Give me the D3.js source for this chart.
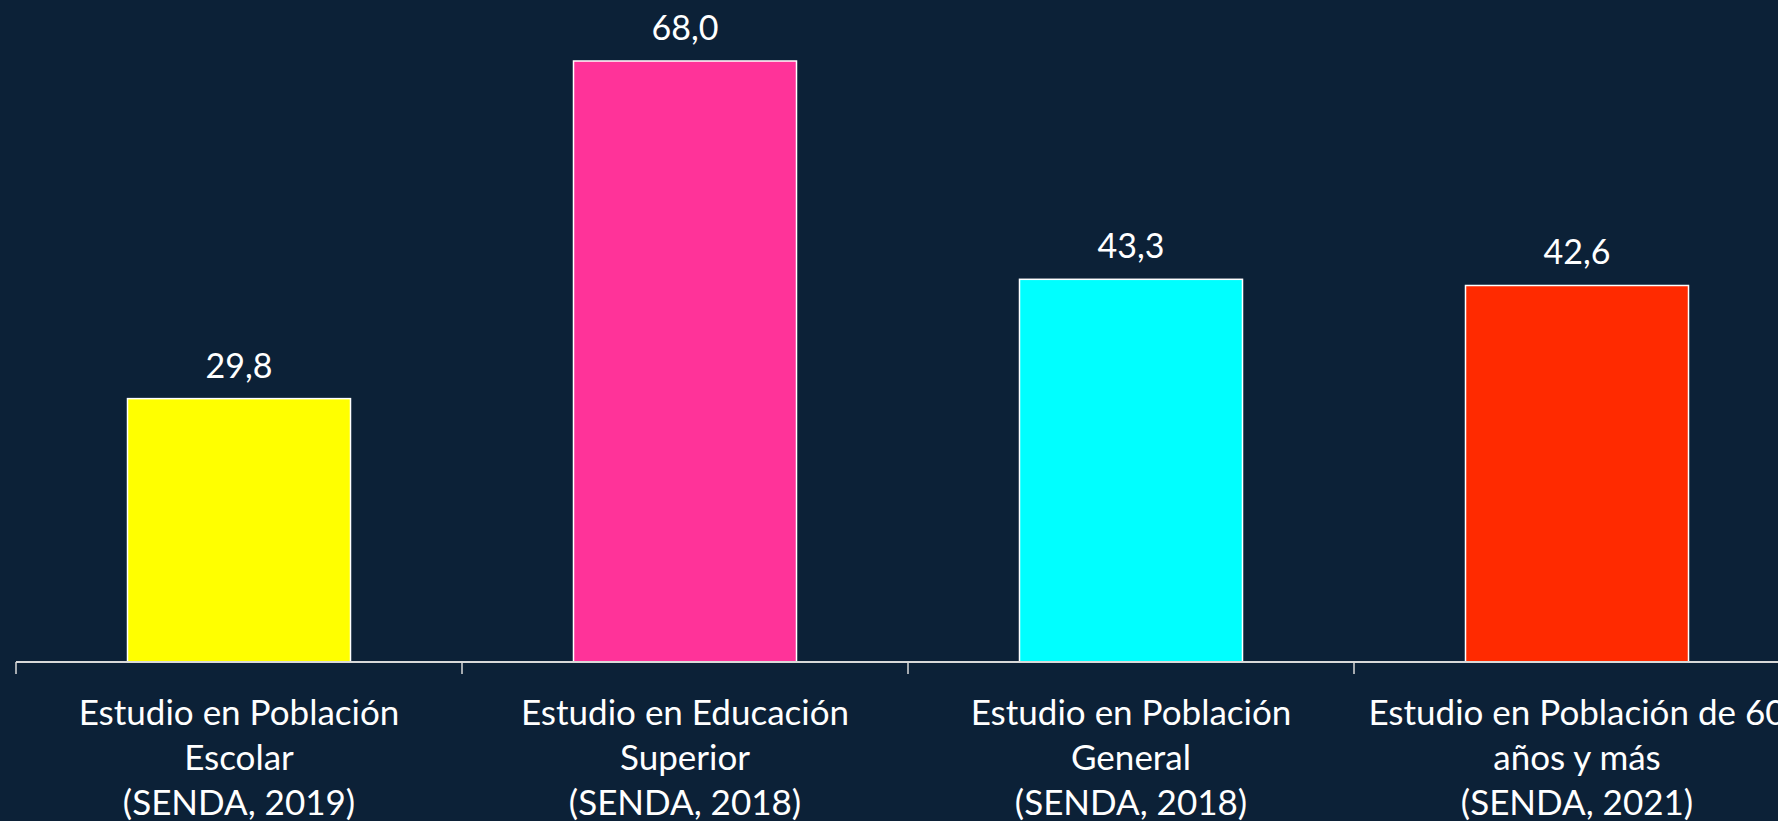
<!DOCTYPE html>
<html>
<head>
<meta charset="utf-8">
<script src="https://cdn.jsdelivr.net/npm/d3@7"></script>
<style>
  html, body { margin: 0; padding: 0; background: #0c2137; overflow: hidden; }
  svg { display: block; }
</style>
</head>
<body>
<div id="chart"></div>
<script>
// datos
const categories = ["escolar", "superior", "general", "mayores"];
const labelLines = [
  ["Estudio en Población", "Escolar", "(SENDA, 2019)"],
  ["Estudio en Educación", "Superior", "(SENDA, 2018)"],
  ["Estudio en Población", "General", "(SENDA, 2018)"],
  ["Estudio en Población de 60", "años y más", "(SENDA, 2021)"]
];
const values = [29.8, 68.0, 43.3, 42.6];
const colors = ["#ffff00", "#ff3399", "#00ffff", "#ff2a00"];

const width = 1778;
const height = 821;
const fontFamily = "Lato, 'Open Sans', sans-serif";

const svg = d3.select("#chart")
  .append("svg")
  .attr("width", width)
  .attr("height", height);

// escalas
const x = d3.scaleBand()
  .domain(categories)
  .range([16, 16 + 446 * 4])
  .padding(0);

const y = d3.scaleLinear()
  .domain([0, 68])
  .range([662, 61]);

const barW = x.bandwidth() * 0.5;

// barras
svg.append("g")
  .selectAll("rect")
  .data(values)
  .join("rect")
  .attr("x", (d, i) => x(categories[i]) + (x.bandwidth() - barW) / 2)
  .attr("y", d => y(d))
  .attr("width", barW)
  .attr("height", d => y(0) - y(d))
  .attr("fill", (d, i) => colors[i])
  .attr("stroke", "#ffffff")
  .attr("stroke-width", 1.5);

// eje
const axis = svg.append("g");
axis.append("line")
  .attr("x1", x.range()[0])
  .attr("x2", x.range()[1])
  .attr("y1", y(0))
  .attr("y2", y(0))
  .attr("stroke", "#d9d9d9")
  .attr("stroke-width", 2);

axis.selectAll("line.tick")
  .data(categories)
  .join("line")
  .attr("class", "tick")
  .attr("x1", d => x(d))
  .attr("x2", d => x(d))
  .attr("y1", y(0))
  .attr("y2", y(0) + 12)
  .attr("stroke", "#d9d9d9")
  .attr("stroke-width", 1.5);

// etiquetas de valores
svg.append("g")
  .selectAll("text")
  .data(values)
  .join("text")
  .attr("x", (d, i) => x(categories[i]) + x.bandwidth() / 2)
  .attr("y", d => y(d) - 21)
  .attr("text-anchor", "middle")
  .attr("fill", "#ffffff")
  .attr("font-family", fontFamily)
  .attr("font-size", "34px")
  .text(d => d3.format(".1f")(d).replace(".", ","));

// etiquetas de categorías
const catLabel = svg.append("g")
  .selectAll("text")
  .data(labelLines)
  .join("text")
  .attr("x", (d, i) => x(categories[i]) + x.bandwidth() / 2)
  .attr("y", 725)
  .attr("text-anchor", "middle")
  .attr("fill", "#ffffff")
  .attr("font-family", fontFamily)
  .attr("font-size", "35px");

catLabel.selectAll("tspan")
  .data(d => d)
  .join("tspan")
  .attr("x", function () { return d3.select(this.parentNode).attr("x"); })
  .attr("dy", (d, i) => i === 0 ? 0 : 45)
  .text(d => d);
</script>
</body>
</html>
